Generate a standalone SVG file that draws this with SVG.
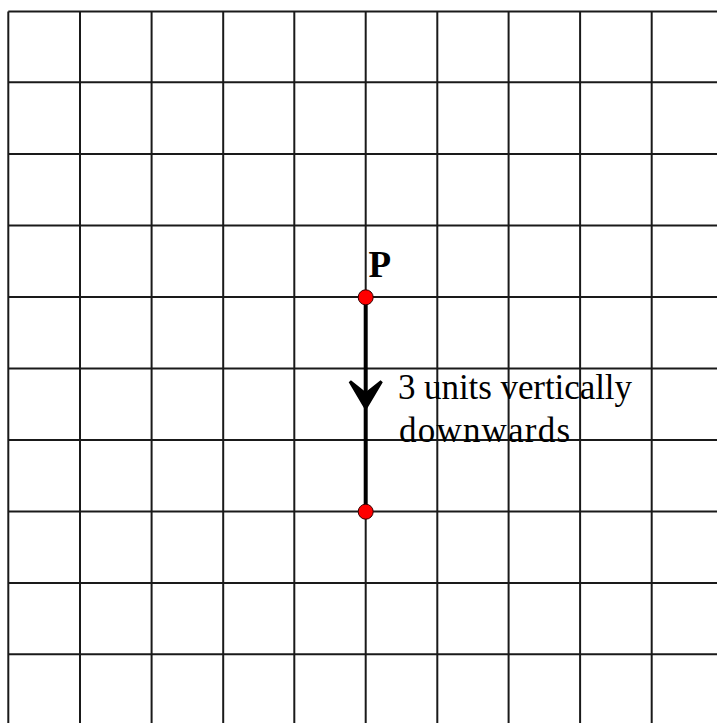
<svg xmlns="http://www.w3.org/2000/svg" width="717" height="723" viewBox="0 0 717 723">
<style>
.grid line{stroke:#1a1a1a;stroke-width:2}
.dot{fill:#ff0000;stroke:#330000;stroke-width:1}
.lbl{font-family:"Liberation Serif",serif;font-size:35px;fill:#000}
.plbl{font-family:"Liberation Serif",serif;font-size:37px;font-weight:bold;fill:#000}
</style>
<rect width="717" height="723" fill="#fff"/>
<g id="grid" class="grid">
<line x1="8.3" y1="11.5" x2="8.3" y2="723"/>
<line x1="80" y1="11.5" x2="80" y2="723"/>
<line x1="151.6" y1="11.5" x2="151.6" y2="723"/>
<line x1="223.2" y1="11.5" x2="223.2" y2="723"/>
<line x1="294.3" y1="11.5" x2="294.3" y2="723"/>
<line x1="365.7" y1="11.5" x2="365.7" y2="723"/>
<line x1="437.3" y1="11.5" x2="437.3" y2="723"/>
<line x1="508.6" y1="11.5" x2="508.6" y2="723"/>
<line x1="580.1" y1="11.5" x2="580.1" y2="723"/>
<line x1="651.7" y1="11.5" x2="651.7" y2="723"/>
<line x1="8.3" y1="11.5" x2="717" y2="11.5"/>
<line x1="8.3" y1="82.3" x2="717" y2="82.3"/>
<line x1="8.3" y1="154" x2="717" y2="154"/>
<line x1="8.3" y1="225.5" x2="717" y2="225.5"/>
<line x1="8.3" y1="297" x2="717" y2="297"/>
<line x1="8.3" y1="368.5" x2="717" y2="368.5"/>
<line x1="8.3" y1="440" x2="717" y2="440"/>
<line x1="8.3" y1="511.5" x2="717" y2="511.5"/>
<line x1="8.3" y1="583" x2="717" y2="583"/>
<line x1="8.3" y1="654.3" x2="717" y2="654.3"/>
</g>
<g id="connectors">
<line x1="365.7" y1="297.3" x2="365.7" y2="511.7" stroke="#000" stroke-width="4"/>
<path d="M350,381.5 L365.7,408 L381.5,381.5 L365.7,394 Z" fill="#000" stroke="#000" stroke-width="3" stroke-linejoin="miter"/>
</g>
<g id="node-P">
<circle class="dot" cx="365.7" cy="297.3" r="7.5"/>
<text class="plbl" x="368.5" y="277.3">P</text>
</g>
<g id="node-end">
<circle class="dot" cx="365.7" cy="511.7" r="7.5"/>
</g>
<g id="label">
<text class="lbl" x="398" y="399.3" textLength="234">3 units vertically</text>
<text class="lbl" x="399" y="441.7" textLength="171">downwards</text>
</g>
</svg>
